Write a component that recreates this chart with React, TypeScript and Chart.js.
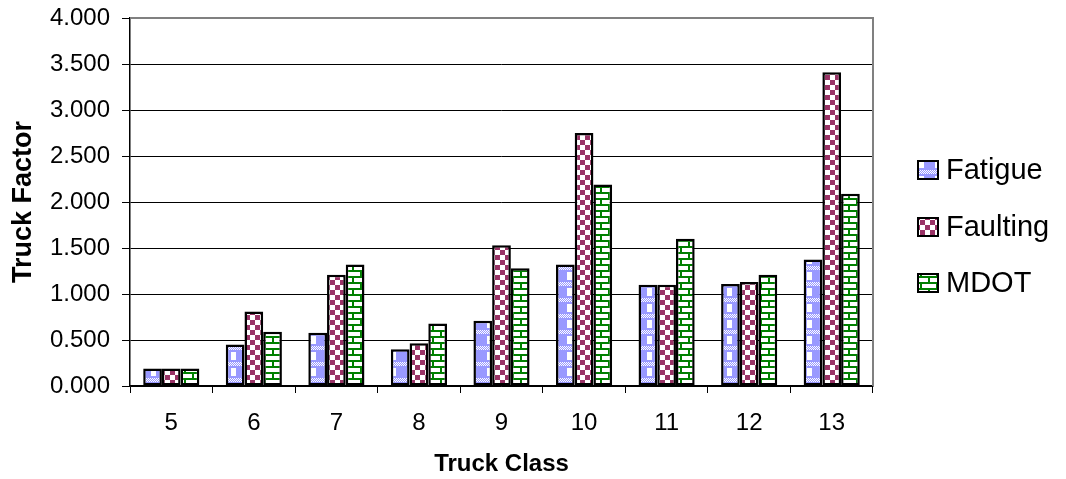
import React, { useEffect, useRef } from "react";
import { Chart, registerables } from "chart.js";

Chart.register(...registerables);

const categories = ["5", "6", "7", "8", "9", "10", "11", "12", "13"];
const seriesNames = ["Fatigue", "Faulting", "MDOT"];
const fatigue = [0.19, 0.45, 0.58, 0.4, 0.71, 1.32, 1.1, 1.11, 1.375];
const faulting = [0.19, 0.81, 1.21, 0.465, 1.53, 2.75, 1.1, 1.13, 3.41];
const mdot = [0.19, 0.59, 1.32, 0.68, 1.28, 2.19, 1.6, 1.21, 2.09];
const yTickStep = 0.5;
const yMin = 0;
const yMax = 4;
const xTitle = "Truck Class";
const yTitle = "Truck Factor";

const FONT = "'Liberation Sans', Arial, sans-serif";

function makePattern(w: number, h: number, draw: (c: CanvasRenderingContext2D) => void): CanvasPattern {
  const cv = document.createElement("canvas");
  cv.width = w;
  cv.height = h;
  const c = cv.getContext("2d") as CanvasRenderingContext2D;
  draw(c);
  return c.createPattern(cv, "repeat") as CanvasPattern;
}

function fatiguePattern() {
  return makePattern(16, 16, (c) => {
    c.fillStyle = "#9999FF";
    c.fillRect(0, 0, 16, 16);
    c.fillStyle = "#FFFFFF";
    c.fillRect(7, 0, 5, 8);
    for (let y = 10; y < 14; y++) {
      for (let x = 0; x < 16; x++) {
        if ((x + y) % 2 === 0) c.fillRect(x, y, 1, 1);
      }
    }
  });
}

function faultingPattern() {
  return makePattern(10, 10, (c) => {
    c.fillStyle = "#FFFFFF";
    c.fillRect(0, 0, 10, 10);
    c.fillStyle = "#993366";
    c.fillRect(0, 0, 5, 5);
    c.fillRect(5, 5, 5, 5);
  });
}

function mdotPattern() {
  return makePattern(16, 12, (c) => {
    c.fillStyle = "#FFFFFF";
    c.fillRect(0, 0, 16, 12);
    c.fillStyle = "#008000";
    c.fillRect(0, 0, 16, 2);
    c.fillRect(0, 6, 16, 2);
    c.fillRect(0, 2, 2, 4);
    c.fillRect(8, 8, 2, 4);
  });
}

export default function App() {
  const ref = useRef<HTMLCanvasElement | null>(null);

  useEffect(() => {
    if (!ref.current) return;
    const pats = [fatiguePattern(), faultingPattern(), mdotPattern()];
    const values = [fatigue, faulting, mdot];

    const framePlugin = {
      id: "frame",
      beforeDatasetsDraw(chart: any) {
        const { ctx, chartArea } = chart;
        ctx.save();
        ctx.strokeStyle = "#808080";
        ctx.lineWidth = 2;
        ctx.beginPath();
        ctx.moveTo(chartArea.left, chartArea.top);
        ctx.lineTo(chartArea.right, chartArea.top);
        ctx.lineTo(chartArea.right, chartArea.bottom);
        ctx.stroke();
        ctx.restore();
      },
    };

    const legendPlugin = {
      id: "customLegend",
      afterDraw(chart: any) {
        const { ctx } = chart;
        ctx.save();
        const x = 918;
        const ys = [170, 227, 283];
        chart.data.datasets.forEach((ds: any, i: number) => {
          const y = ys[i];
          ctx.fillStyle = ds.backgroundColor;
          ctx.fillRect(x, y - 9, 20, 18);
          ctx.strokeStyle = "#000";
          ctx.lineWidth = 2;
          ctx.strokeRect(x, y - 9, 20, 18);
          ctx.fillStyle = "#000";
          ctx.font = `29px ${FONT}`;
          ctx.textBaseline = "middle";
          ctx.textAlign = "left";
          ctx.fillText(ds.label, x + 28, y + 1);
        });
        ctx.restore();
      },
    };

    const chart = new Chart(ref.current, {
      type: "bar",
      data: {
        labels: categories,
        datasets: seriesNames.map((name, i) => ({
          label: name,
          data: values[i],
          backgroundColor: pats[i] as any,
          borderColor: "#000",
          borderWidth: 2.5,
          borderSkipped: false,
          categoryPercentage: 0.68,
          barPercentage: 1,
        })),
      },
      options: {
        animation: false,
        responsive: false,
        devicePixelRatio: 1,
        layout: { padding: { top: 18, right: 193, left: 0, bottom: 0 } },
        plugins: {
          legend: { display: false },
          tooltip: { enabled: false },
        },
        scales: {
          x: {
            grid: {
              display: true,
              drawOnChartArea: false,
              drawTicks: true,
              tickLength: 7,
              color: "#000",
              offset: true,
            },
            border: { display: true, color: "#000", width: 1.5 },
            ticks: {
              color: "#000",
              font: { family: FONT, size: 24 },
              padding: 16,
              maxRotation: 0,
            },
            title: {
              display: true,
              text: xTitle,
              color: "#000",
              font: { family: FONT, size: 24, weight: "bold" },
              padding: { top: 0, bottom: 0 },
            },
            afterFit(scale: any) {
              scale.height = 93;
              scale.paddingLeft = 0;
              scale.paddingRight = 0;
            },
          },
          y: {
            min: yMin,
            max: yMax,
            grid: {
              display: true,
              drawOnChartArea: true,
              drawTicks: true,
              tickLength: 8,
              color: "#000",
              lineWidth: 1,
            },
            border: { display: true, color: "#000", width: 1.5 },
            ticks: {
              stepSize: yTickStep,
              color: "#000",
              font: { family: FONT, size: 24 },
              padding: 12,
              callback: (v: any) => Number(v).toFixed(3),
            },
            title: {
              display: true,
              text: yTitle,
              color: "#000",
              font: { family: FONT, size: 27, weight: "bold" },
              padding: { top: 7, bottom: 0 },
            },
            afterFit(scale: any) {
              scale.width = 130;
              scale.paddingTop = 0;
              scale.paddingBottom = 0;
            },
          },
        },
      },
      plugins: [framePlugin, legendPlugin],
    });
    return () => chart.destroy();
  }, []);

  return (
    <div style={{ position: "absolute", left: 0, top: 0, width: 1066, height: 479, background: "#fff" }}>
      <canvas ref={ref} width={1066} height={479} style={{ display: "block" }} />
    </div>
  );
}
